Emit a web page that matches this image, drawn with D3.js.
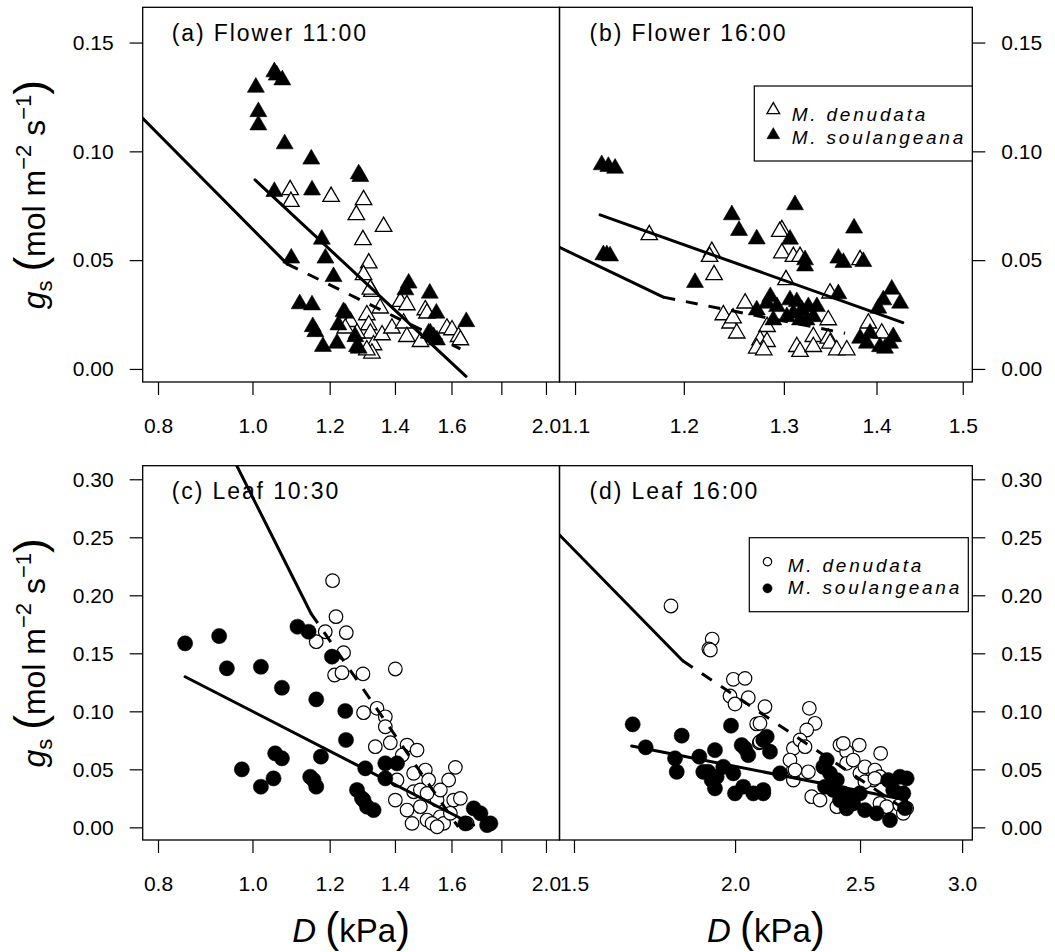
<!DOCTYPE html>
<html>
<head>
<meta charset="utf-8">
<script src="https://cdn.jsdelivr.net/npm/d3@7"></script>
<style>
  body { margin: 0; background: #fff; }
  svg { display: block; font-family: "Liberation Sans", Arial, Helvetica, sans-serif; }
</style>
</head>
<body>
<svg id="chart" width="1055" height="952"></svg>
<script>
// ---------- tick values ----------
const xTicksAm = [0.8, 1.0, 1.2, 1.4, 1.6, 1.8, 2.0];
const xLabelsAm = ["0.8", "1.0", "1.2", "1.4", "1.6", "", "2.0"];
const xTicksFlowerPm = [1.1, 1.2, 1.3, 1.4, 1.5];
const xLabelsFlowerPm = ["1.1", "1.2", "1.3", "1.4", "1.5"];
const xTicksLeafPm = [1.5, 2.0, 2.5, 3.0];
const xLabelsLeafPm = ["1.5", "2.0", "2.5", "3.0"];
const yTicksFlower = [0, 0.05, 0.10, 0.15];
const yTicksLeaf = [0, 0.05, 0.10, 0.15, 0.20, 0.25, 0.30];

// ---------- observations [D (kPa), gs] ----------
const flowerAmDen = [[1.093,0.0823],[1.095,0.0769],[1.204,0.0792],[1.300,0.0777],[1.278,0.0708],[1.363,0.0654],
  [1.298,0.0593],[1.316,0.0486],[1.300,0.0432],[1.326,0.0355],[1.418,0.0309],[1.440,0.0294],[1.504,0.0271],
  [1.510,0.0256],[1.352,0.0279],[1.310,0.0248],[1.260,0.0217],[1.245,0.0187],[1.316,0.0202],[1.321,0.0164],
  [1.331,0.0110],[1.326,0.0072],[1.280,0.0164],[1.358,0.0156],[1.390,0.0187],[1.429,0.0210],[1.440,0.0148],
  [1.487,0.0125],[1.583,0.0187],[1.602,0.0179],[1.627,0.0148],[1.634,0.0133],[1.321,0.0366],[1.310,0.0087]];
const flowerAmSoul = [[1.053,0.1365],[1.059,0.1350],[1.073,0.1328],[1.008,0.1294],[1.014,0.1182],[1.014,0.1121],
  [1.079,0.1034],[1.149,0.0964],[1.285,0.0896],[1.290,0.0884],[1.053,0.0815],[1.151,0.0822],[1.178,0.0596],
  [1.188,0.0509],[1.096,0.0509],[1.211,0.0424],[1.118,0.0299],[1.151,0.0294],[1.153,0.0194],[1.160,0.0171],
  [1.181,0.0103],[1.221,0.0118],[1.240,0.0263],[1.225,0.0202],[1.245,0.0256],[1.285,0.0095],[1.275,0.0148],
  [1.280,0.0102],[1.446,0.0394],[1.435,0.0363],[1.520,0.0348],[1.544,0.0256],[1.657,0.0217],[1.522,0.0165],
  [1.534,0.0148],[1.546,0.0133],[1.516,0.0164]];

const flowerPmDen = [[1.1673,0.0616],[1.2272,0.0539],[1.2250,0.0516],[1.2294,0.0432],[1.2979,0.0639],[1.2957,0.0631],
  [1.2979,0.0532],[1.3099,0.0516],[1.3169,0.0516],[1.3022,0.0409],[1.3489,0.0348],[1.3817,0.0501],[1.3909,0.0210],
  [1.4059,0.0164],[1.2385,0.0248],[1.2452,0.0210],[1.2519,0.0164],[1.2603,0.0302],[1.2826,0.0194],[1.2755,0.0133],
  [1.2826,0.0125],[1.2721,0.0095],[1.2792,0.0087],[1.3135,0.0102],[1.3169,0.0080],[1.3310,0.0148],[1.3310,0.0102],
  [1.3470,0.0225],[1.3470,0.0141],[1.3489,0.0118],[1.3561,0.0087],[1.3671,0.0087],[1.2482,0.0234]];
const flowerPmSoul = [[1.1237,0.0938],[1.1297,0.0930],[1.1358,0.0922],[1.1252,0.0524],[1.1283,0.0524],[1.1312,0.0519],
  [1.2108,0.0397],[1.2470,0.0708],[1.2542,0.0636],[1.2721,0.0597],[1.3116,0.0754],[1.3064,0.0596],[1.3222,0.0501],
  [1.3222,0.0473],[1.3751,0.0647],[1.3579,0.0509],[1.3634,0.0489],[1.3853,0.0493],[1.3579,0.0345],[1.4172,0.0366],
  [1.4076,0.0317],[1.4267,0.0302],[1.4020,0.0279],[1.2860,0.0332],[1.2826,0.0302],[1.2929,0.0286],[1.3064,0.0317],
  [1.3135,0.0309],[1.3099,0.0256],[1.3188,0.0271],[1.3257,0.0286],[1.3348,0.0286],[1.3310,0.0240],[1.2721,0.0271],
  [1.2891,0.0225],[1.3031,0.0240],[1.3169,0.0225],[1.3238,0.0225],[1.3817,0.0141],[1.3928,0.0164],[1.3892,0.0118],
  [1.4189,0.0148],[1.4152,0.0118],[1.4039,0.0102],[1.4095,0.0095]];

const leafAmDen = [[1.2082,0.2126],[1.2180,0.1816],[1.2480,0.1678],[1.1875,0.1686],[1.1625,0.1600],[1.2400,0.1505],
  [1.2140,0.1313],[1.2353,0.1333],[1.2982,0.1322],[1.3000,0.0988],[1.4013,0.1365],[1.3419,0.1026],[1.3685,0.0953],
  [1.3685,0.0867],[1.3365,0.0695],[1.3848,0.0729],[1.4405,0.0709],[1.4750,0.0666],[1.4069,0.0408],[1.4632,0.0466],
  [1.5042,0.0494],[1.5160,0.0408],[1.6148,0.0517],[1.5894,0.0408],[1.4405,0.0149],[1.4577,0.0034],[1.4866,0.0178],
  [1.5103,0.0063],[1.5464,0.0235],[1.5585,0.0091],[1.5707,0.0034],[1.6084,0.0235],[1.6340,0.0250],[1.5958,0.0121],
  [1.4632,0.0307],[1.4866,0.0322],[1.5283,0.0034],[1.5464,0.0005],[1.6600,0.0034],[1.5103,0.0293],[1.4246,0.0623],
  [1.5585,0.0322],[1.4013,0.0235]];
const leafAmSoul = [[0.8529,0.1586],[0.9243,0.1649],[0.9413,0.1371],[1.0201,0.1384],[1.0720,0.1203],[1.1625,0.1103],
  [1.2450,0.1003],[1.2471,0.0753],[1.1122,0.1729],[1.1416,0.1686],[1.2065,0.1471],[1.0551,0.0638],[1.0720,0.0595],
  [1.1755,0.0609],[0.9752,0.0500],[1.0509,0.0422],[1.0201,0.0350],[1.1461,0.0436],[1.1551,0.0408],[1.1625,0.0350],
  [1.3053,0.0509],[1.2800,0.0322],[1.2951,0.0250],[1.3106,0.0178],[1.3000,0.0235],[1.3312,0.0149],[1.3685,0.0552],
  [1.4069,0.0552],[1.3685,0.0422],[1.6862,0.0164],[1.7132,0.0121],[1.7540,0.0034],[1.7404,0.0020],[1.6533,0.0034]];

const leafPmDen = [[1.7837,0.1908],[1.9199,0.1623],[1.9086,0.1537],[1.9138,0.1528],[1.9937,0.1276],[2.0358,0.1284],
  [1.9819,0.1132],[1.9997,0.1063],[2.0477,0.1117],[2.1097,0.1040],[2.0787,0.0891],[2.0883,0.0729],[2.2836,0.1026],
  [2.3069,0.0897],[2.2729,0.0839],[2.2193,0.0681],[2.2460,0.0753],[2.2661,0.0695],[2.2796,0.0479],[2.2193,0.0494],
  [2.4119,0.0709],[2.4409,0.0652],[2.4965,0.0709],[2.5937,0.0638],[2.4409,0.0552],[2.4995,0.0466],[2.5219,0.0522],
  [2.5674,0.0494],[2.5904,0.0436],[2.5597,0.0408],[2.5219,0.0393],[2.2934,0.0264],[2.3276,0.0235],[2.3986,0.0178],
  [2.5904,0.0207],[2.6218,0.0178],[2.6847,0.0192],[2.7171,0.0164],[2.7009,0.0121],[2.0909,0.0897],[2.0909,0.0738],
  [2.2193,0.0408],[2.2060,0.0580],[2.2260,0.0494],[2.4262,0.0724],[2.4697,0.0580],[2.5674,0.0422]];
const leafPmSoul = [[1.6658,0.0888],[1.7048,0.0690],[1.8182,0.0790],[1.7966,0.0595],[1.8021,0.0479],[1.8763,0.0609],
  [1.8896,0.0479],[1.9181,0.0408],[1.9294,0.0336],[1.9294,0.0666],[1.9855,0.0876],[1.9584,0.0522],[1.9937,0.0466],
  [1.9997,0.0293],[2.0295,0.0350],[2.0237,0.0709],[2.0477,0.0623],[2.0661,0.0293],[2.1033,0.0322],[2.1161,0.0781],
  [2.1033,0.0753],[2.1286,0.0652],[2.1033,0.0293],[2.1671,0.0466],[2.3414,0.0522],[2.3695,0.0466],[2.3986,0.0408],
  [2.3485,0.0350],[2.3834,0.0322],[2.4262,0.0293],[2.4625,0.0264],[2.4995,0.0293],[2.6847,0.0436],[2.7171,0.0422],
  [2.6293,0.0408],[2.6528,0.0322],[2.7009,0.0293],[2.6372,0.0063],[2.5219,0.0149],[2.5752,0.0121],[2.4697,0.0207],
  [2.3555,0.0580],[2.4119,0.0235],[2.4409,0.0164],[1.9064,0.0479],[1.9352,0.0436],[2.0358,0.0681],[2.7090,0.0166]];

// ---------- fitted lines [D, gs] ----------
const flowerAmFitA = [[1.006, 0.0869], [1.656, -0.0034]];
const flowerAmFitB = [[0.7716, 0.1152], [1.085, 0.0483]];
const flowerAmFitBDash = [[1.085, 0.0483], [1.634, 0.0092]];
const flowerPmFitA = [[1.1222, 0.0708], [1.4298, 0.0213]];
const flowerPmFitB = [[1.0864, 0.0559], [1.1805, 0.0330]];
const flowerPmFitBDash = [[1.1805, 0.0330], [1.3652, 0.0164]];
const leafAmFitA = [[0.95, 0.322], [1.148, 0.1845]];
const leafAmFitADash = [[1.148, 0.1845], [1.626, 0.0003]];
const leafAmFitB = [[0.8529, 0.1298], [1.686, 0.0020]];
const leafPmFitA = [[1.4617, 0.252], [1.8214, 0.1436]];
const leafPmFitADash = [[1.8214, 0.1436], [2.717, 0.0145]];
const leafPmFitB = [[1.6629, 0.0701], [2.717, 0.0235]];

const legendNames = ["M. denudata", "M. soulangeana"];

// ---------- layout ----------
const svg = d3.select("#chart");
const FS_TICK = 21;

const panels = [
  { label: "(a) Flower 11:00", left: 142.7, right: 559.5, top: 7.3, bottom: 382,
    xDomain: [0.7716, 2.065], yDomain: [-0.006, 0.1662], xTicks: xTicksAm, xLabels: xLabelsAm,
    yTicks: yTicksFlower, ySide: "left", den: flowerAmDen, soul: flowerAmSoul, shape: "triangle",
    solid: [flowerAmFitA, flowerAmFitB], dashed: [flowerAmFitBDash], legend: null },
  { label: "(b) Flower 16:00", left: 559.5, right: 972.3, top: 7.3, bottom: 382,
    xDomain: [1.0864, 1.5115], yDomain: [-0.006, 0.1662], xTicks: xTicksFlowerPm, xLabels: xLabelsFlowerPm,
    yTicks: yTicksFlower, ySide: "right", den: flowerPmDen, soul: flowerPmSoul, shape: "triangle",
    solid: [flowerPmFitA, flowerPmFitB], dashed: [flowerPmFitBDash],
    legend: { x: 754.3, y: 86, w: 218, h: 75, mx: 773.3, my: [110, 135], tx: 791.7, ty: [120.5, 143.5] } },
  { label: "(c) Leaf 10:30", left: 142.7, right: 559.5, top: 465.7, bottom: 840,
    xDomain: [0.7716, 2.065], yDomain: [-0.0109, 0.3117], xTicks: xTicksAm, xLabels: xLabelsAm,
    yTicks: yTicksLeaf, ySide: "left", den: leafAmDen, soul: leafAmSoul, shape: "circle",
    solid: [leafAmFitA, leafAmFitB], dashed: [leafAmFitADash], legend: null },
  { label: "(d) Leaf 16:00", left: 559.5, right: 972.3, top: 465.7, bottom: 840,
    xDomain: [1.4617, 3.055], yDomain: [-0.0109, 0.3117], xTicks: xTicksLeafPm, xLabels: xLabelsLeafPm,
    yTicks: yTicksLeaf, ySide: "right", den: leafPmDen, soul: leafPmSoul, shape: "circle",
    solid: [leafPmFitA, leafPmFitB], dashed: [leafPmFitADash],
    legend: { x: 749.3, y: 537.7, w: 219, h: 74, mx: 767.5, my: [561.7, 588.3], tx: 787.7, ty: [571.7, 594] } }
];

const triFill = d3.symbol().type(d3.symbolTriangle).size(125);
const triOpen = d3.symbol().type(d3.symbolTriangle).size(118);
const triLegend = d3.symbol().type(d3.symbolTriangle).size(70);

function drawMarker(sel, shape, filled, legend) {
  if (shape === "triangle") {
    sel.append("path")
      .attr("d", legend ? triLegend() : (filled ? triFill() : triOpen()))
      .attr("fill", filled ? "#000" : "#fff")
      .attr("stroke", "#000")
      .attr("stroke-width", filled ? 0.6 : 1.3)
      .attr("stroke-linejoin", "miter");
  } else {
    sel.append("circle")
      .attr("r", legend ? (filled ? 4.6 : 4.2) : (filled ? 7.6 : 6.8))
      .attr("fill", filled ? "#000" : "#fff")
      .attr("stroke", "#000")
      .attr("stroke-width", filled ? 0.5 : 1.2);
  }
}

panels.forEach((p, i) => {
  const x = d3.scaleLog().domain(p.xDomain).range([p.left, p.right]);
  const y = d3.scaleLinear().domain(p.yDomain).range([p.bottom, p.top]);

  svg.append("clipPath").attr("id", "clip" + i)
    .append("rect")
    .attr("x", p.left).attr("y", p.top)
    .attr("width", p.right - p.left).attr("height", p.bottom - p.top);

  const plot = svg.append("g").attr("clip-path", `url(#clip${i})`);

  // open symbols, then filled
  [[p.den, false], [p.soul, true]].forEach(([pts, filled]) => {
    plot.append("g").selectAll("g")
      .data(pts)
      .join("g")
      .attr("transform", d => `translate(${x(d[0])},${y(d[1])})`)
      .each(function () { drawMarker(d3.select(this), p.shape, filled, false); });
  });

  // fitted lines
  const line = d3.line().x(d => x(d[0])).y(d => y(d[1]));
  p.solid.forEach(seg => {
    plot.append("path").attr("d", line(seg))
      .attr("fill", "none").attr("stroke", "#000").attr("stroke-width", 3)
      .attr("stroke-linecap", "round");
  });
  p.dashed.forEach(seg => {
    plot.append("path").attr("d", line(seg))
      .attr("fill", "none").attr("stroke", "#000").attr("stroke-width", 3)
      .attr("stroke-dasharray", "12,11").attr("stroke-linecap", "butt");
  });

  // frame
  svg.append("rect")
    .attr("x", p.left).attr("y", p.top)
    .attr("width", p.right - p.left).attr("height", p.bottom - p.top)
    .attr("fill", "none").attr("stroke", "#000").attr("stroke-width", 1.3);

  // x axis
  const xAxis = d3.axisBottom(x)
    .tickValues(p.xTicks)
    .tickFormat((d, k) => p.xLabels[k])
    .tickSize(13).tickSizeOuter(0).tickPadding(23);
  const gx = svg.append("g").attr("transform", `translate(0,${p.bottom})`).call(xAxis);
  gx.select(".domain").remove();
  gx.selectAll("line").attr("stroke-width", 1.2);
  gx.selectAll("text").attr("font-size", FS_TICK).attr("font-family", "Liberation Sans, Arial, sans-serif");

  // y axis
  const yAxis = (p.ySide === "left" ? d3.axisLeft(y) : d3.axisRight(y))
    .tickValues(p.yTicks)
    .tickFormat(d3.format(".2f"))
    .tickSize(13).tickSizeOuter(0).tickPadding(16);
  const gy = svg.append("g")
    .attr("transform", `translate(${p.ySide === "left" ? p.left : p.right},0)`)
    .call(yAxis);
  gy.select(".domain").remove();
  gy.selectAll("line").attr("stroke-width", 1.2);
  gy.selectAll("text").attr("font-size", FS_TICK).attr("font-family", "Liberation Sans, Arial, sans-serif");

  // panel label
  svg.append("text")
    .attr("x", p.left + (p.ySide === "left" ? 29 : 30))
    .attr("y", p.top + 33.4)
    .attr("font-size", 23)
    .attr("letter-spacing", 1.9)
    .text(p.label);

  // legend
  if (p.legend) {
    const L = p.legend;
    svg.append("rect")
      .attr("x", L.x).attr("y", L.y).attr("width", L.w).attr("height", L.h)
      .attr("fill", "#fff").attr("stroke", "#000").attr("stroke-width", 1.2);
    legendNames.forEach((name, k) => {
      const m = svg.append("g").attr("transform", `translate(${L.mx},${L.my[k]})`);
      drawMarker(m, p.shape, k === 1, true);
      svg.append("text")
        .attr("x", L.tx).attr("y", L.ty[k])
        .attr("font-size", 19)
        .attr("font-style", "italic")
        .attr("letter-spacing", 2.8)
        .text(name);
    });
  }
});

// ---------- axis titles ----------
function yTitle(cx, cy) {
  const t = svg.append("text")
    .attr("transform", `translate(${cx},${cy}) rotate(-90)`)
    .attr("text-anchor", "middle")
    .attr("font-size", 32);
  t.append("tspan").attr("font-style", "italic").text("g");
  t.append("tspan").attr("font-size", 22).attr("dy", 7).text("s");
  t.append("tspan").attr("dy", -7).text(" ");
  t.append("tspan").attr("font-size", 44).text("(");
  t.append("tspan").text("mol m");
  t.append("tspan").attr("font-size", 22).attr("dy", -14).text("\u22122");
  t.append("tspan").attr("dy", 14).text(" s");
  t.append("tspan").attr("font-size", 22).attr("dy", -14).text("\u22121");
  t.append("tspan").attr("dy", 14).attr("font-size", 44).text(")");
}
yTitle(45, (7.3 + 382) / 2);
yTitle(45, (465.7 + 840) / 2);

function xTitle(cx, cy) {
  const t = svg.append("text")
    .attr("x", cx).attr("y", cy)
    .attr("text-anchor", "middle")
    .attr("font-size", 33);
  t.append("tspan").attr("font-style", "italic").text("D");
  t.append("tspan").text(" ");
  t.append("tspan").attr("font-size", 42).text("(");
  t.append("tspan").text("kPa");
  t.append("tspan").attr("font-size", 42).text(")");
}
xTitle((142.7 + 559.5) / 2, 942);
xTitle((559.5 + 972.3) / 2, 942);
</script>
</body>
</html>
